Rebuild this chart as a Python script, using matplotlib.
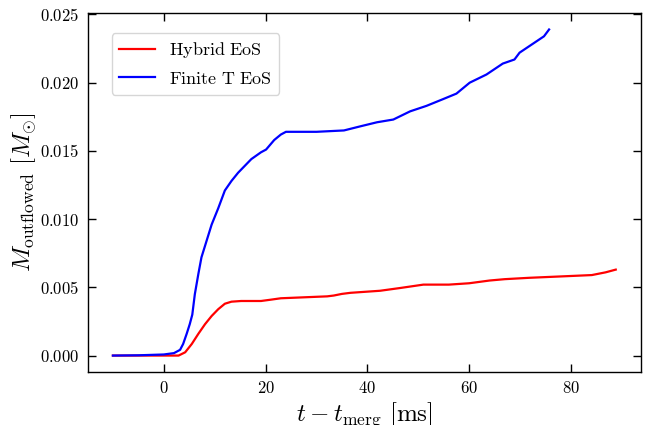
import matplotlib
matplotlib.use("Agg")
import matplotlib.pyplot as plt
from matplotlib.ticker import FuncFormatter, MultipleLocator

plt.rcParams['mathtext.fontset'] = 'cm'
plt.rcParams['font.family'] = 'serif'
plt.rcParams['font.serif'] = ['DejaVu Serif']

# Hybrid EoS (red)
t_hybrid = [-10, -5, 0, 2, 2.9, 4.2, 5.5, 6.8, 8.1, 9.4, 10.7, 12.0, 13.3, 15.2,
            17, 19.1, 21.1, 23, 26.9, 32.1, 33.4, 35, 36.7, 42.5, 46.4, 51, 56,
            60, 64, 67, 71.8, 78, 84.1, 86.8, 88.8]
m_hybrid = [0.0, 0.0, 0.0, 0.0, 0.0, 0.00024, 0.00085, 0.0016, 0.0023, 0.0029,
            0.0034, 0.0038, 0.00395, 0.0040, 0.0040, 0.0040, 0.0041, 0.0042,
            0.00426, 0.00434, 0.0044, 0.00452, 0.0046, 0.00475, 0.00495, 0.0052,
            0.0052, 0.0053, 0.0055, 0.0056, 0.0057, 0.0058, 0.0059, 0.0061, 0.0063]

# Finite T EoS (blue)
t_finite = [-10, -5, 0, 2, 3.2, 3.8, 4.5, 5.1, 5.6, 6.1, 6.8, 7.4, 8.4, 9.4,
            10.7, 12.0, 13.3, 14.6, 15.9, 17.2, 19.1, 20.1, 21.7, 23, 24, 30,
            35.4, 38.6, 41.9, 45.1, 48.4, 51.6, 54.9, 57.5, 60.1, 63.4, 66.6,
            68.9, 69.9, 73.1, 74.7, 75.7]
m_finite = [0.0, 0.00002, 0.00008, 0.00018, 0.00042, 0.00085, 0.0016, 0.0023,
            0.0030, 0.0045, 0.0060, 0.0072, 0.0084, 0.0096, 0.0108, 0.0121,
            0.0128, 0.0134, 0.0139, 0.0144, 0.0149, 0.0151, 0.0158, 0.0162,
            0.0164, 0.0164, 0.0165, 0.0168, 0.0171, 0.0173, 0.0179, 0.0183,
            0.0188, 0.0192, 0.0200, 0.0206, 0.0214, 0.0217, 0.0222, 0.0230,
            0.0234, 0.0239]

fig = plt.figure(figsize=(6.5, 4.25), dpi=100)
ax = fig.add_axes([0.135, 0.125, 0.851, 0.844])

ax.plot(t_hybrid, m_hybrid, color='red', lw=1.6, label=r'$\mathrm{Hybrid\ EoS}$')
ax.plot(t_finite, m_finite, color='blue', lw=1.6, label=r'$\mathrm{Finite\ T\ EoS}$')

ax.xaxis.set_major_locator(MultipleLocator(20))
ax.yaxis.set_major_locator(MultipleLocator(0.005))
ax.xaxis.set_major_formatter(FuncFormatter(lambda v, p: r'$%d$' % round(v)))
ax.yaxis.set_major_formatter(FuncFormatter(lambda v, p: r'$%.3f$' % v))
ax.tick_params(direction='in', top=True, right=True, length=6, width=1,
               labelsize=12, pad=6)
for s in ax.spines.values():
    s.set_linewidth(1)

ax.set_xlabel(r'$t - t_{\mathrm{merg}}\ [\mathrm{ms}]$', fontsize=18, labelpad=2)
ax.set_ylabel(r'$M_{\mathrm{outflowed}}\ [M_{\odot}]$', fontsize=18, labelpad=1)

ax.legend(loc='upper left', bbox_to_anchor=(0.043, 0.944), borderaxespad=0,
          fontsize=13, handlelength=2.0)

fig.savefig('out.png', dpi=100)
